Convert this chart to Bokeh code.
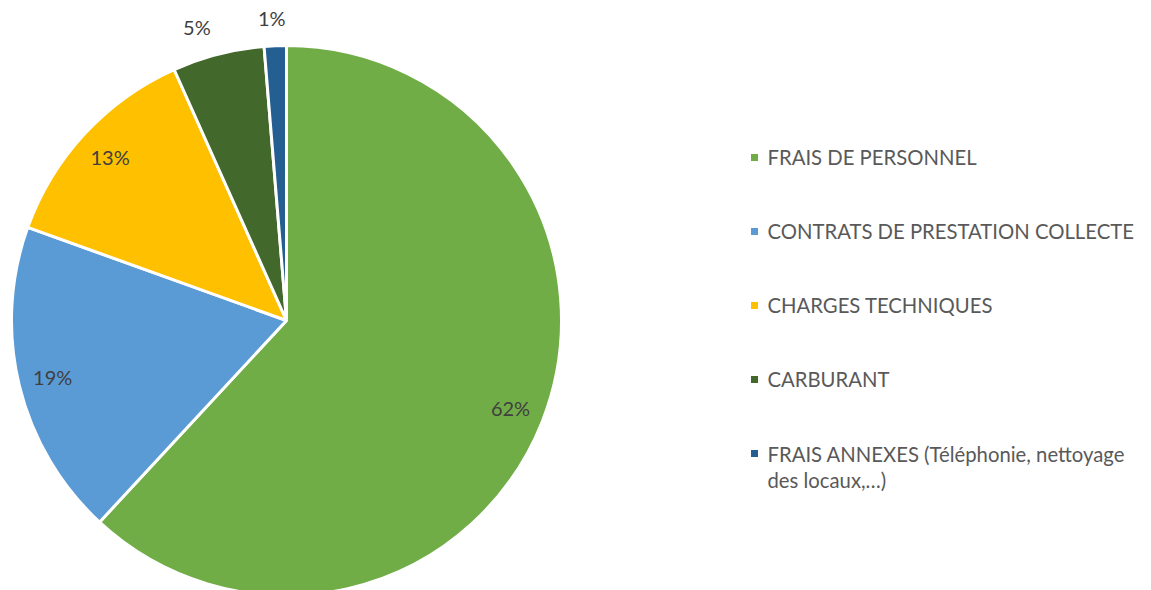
import math
from bokeh.plotting import figure
from bokeh.models import Range1d, ColumnDataSource
from bokeh.core.properties import value
from bokeh.embed import file_html
from bokeh.resources import INLINE

categories = [
    "FRAIS DE PERSONNEL",
    "CONTRATS DE PRESTATION COLLECTE",
    "CHARGES TECHNIQUES",
    "CARBURANT",
    "FRAIS ANNEXES (Téléphonie, nettoyage\ndes locaux,…)",
]
shares = [61.9, 18.6, 12.8, 5.4, 1.3]
colors = ["#70AD47", "#5B9BD5", "#FFC000", "#43682B", "#255E91"]

W, H = 1143, 590
p = figure(width=W, height=H, output_backend="svg", toolbar_location=None,
           x_range=Range1d(0, W), y_range=Range1d(0, H),
           min_border=0, outline_line_color=None)
p.axis.visible = False
p.grid.visible = False
p.background_fill_color = "white"
p.border_fill_color = "white"

# geometry (data y = 590 - screen y)
cx, cy, R = 286, 590 - 320, 275

total = sum(shares)
starts, ends, mids = [], [], []
cum = 0.0
for s in shares:
    a0 = math.pi / 2 - 2 * math.pi * cum / total
    cum += s
    a1 = math.pi / 2 - 2 * math.pi * cum / total
    starts.append(a0)
    ends.append(a1)
    mids.append((a0 + a1) / 2)

src = ColumnDataSource(dict(start=starts, end=ends, color=colors))
p.wedge(x=cx, y=cy, radius=R, start_angle="start", end_angle="end",
        direction="clock", fill_color="color", line_color="white",
        line_width=3, source=src)

# data labels
lx, ly, lt = [], [], []
for s, m in zip(shares, mids):
    txt = f"{round(s)}%"
    if s >= 10:
        f = 0.875
        lx.append(cx + f * R * math.cos(m))
        ly.append(cy + f * R * math.sin(m))
    else:
        ax = cx + (R + 18) * math.cos(m)
        ay = cy + (R + 18) * math.sin(m)
        half_w = 14
        k = min(1.0, abs(math.cos(m)) / 0.25)
        lx.append(ax + math.copysign(half_w * k, math.cos(m)) * 1.2)
        ly.append(ay + 10)
    lt.append(txt)
p.text(x=lx, y=ly, text=lt, text_align="center", text_baseline="middle",
       text_font=value("Lato"), text_font_size="20px", text_color="#404040")

# legend
leg_y = [590 - (157 + 74 * i) for i in range(len(categories))]
p.rect(x=[754] * len(categories), y=leg_y, width=7, height=7,
       fill_color=colors, line_color=None)
p.text(x=[767] * len(categories),
       y=[y + 1 + (0 if "\n" not in c else -14.5) for y, c in zip(leg_y, categories)],
       text=categories, text_align="left", text_baseline="middle",
       text_font=value("Lato"), text_font_size="20.3px", text_color="#595959",
       text_line_height=1.1)

open("out.html", "w").write(file_html(p, INLINE))
